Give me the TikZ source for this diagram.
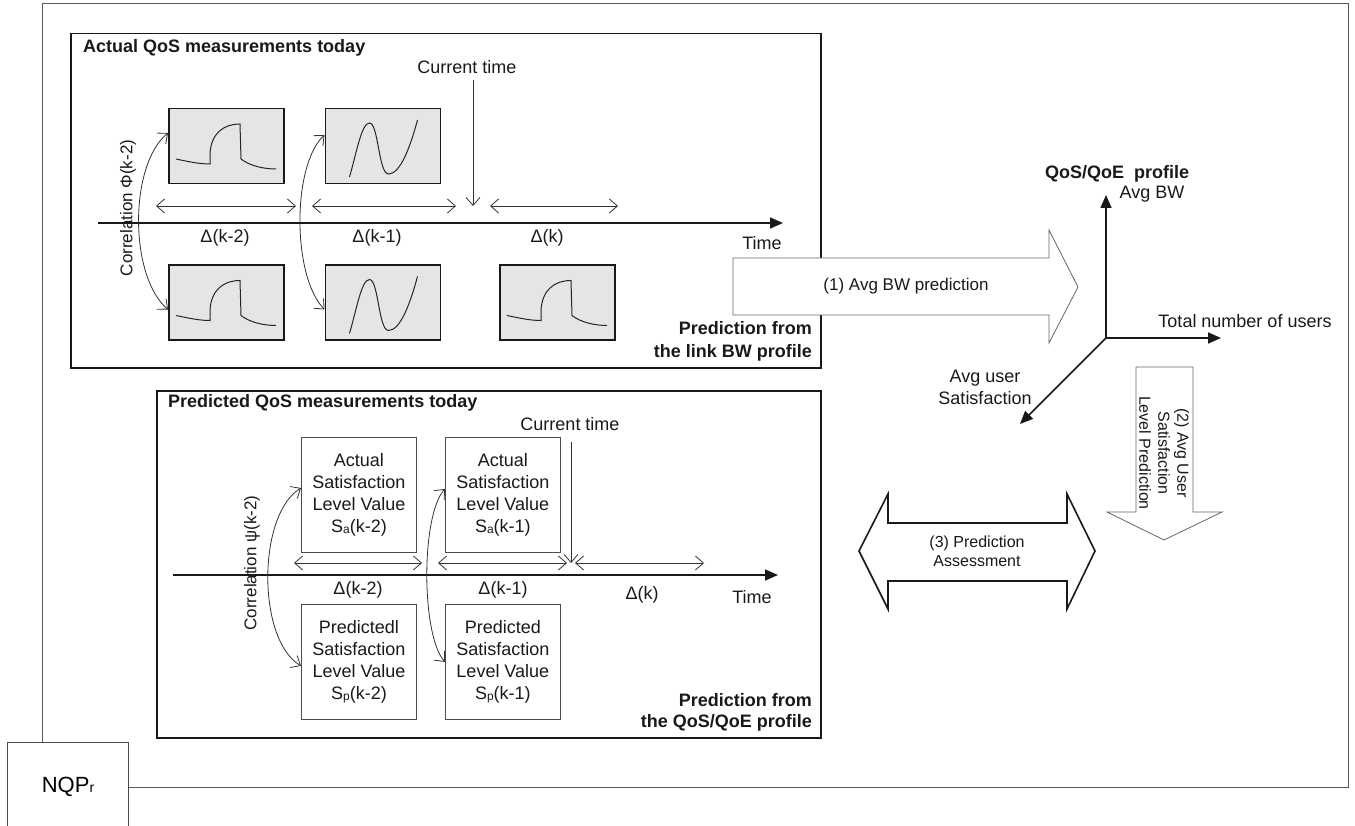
\documentclass[tikz,border=0pt]{standalone}
\usepackage{fontspec}
\setmainfont{Liberation Sans}
\usetikzlibrary{positioning, arrows.meta, calc}

\newcommand{\smallidx}[1]{\raisebox{-1pt}{\fontsize{12}{12}\selectfont #1}}

\begin{document}
\begin{tikzpicture}[x=1pt, y=-1pt,
  frame/.style={draw=black!65, line width=1pt},
  panel/.style={draw=black!90, line width=1.5pt, inner sep=0pt, anchor=north west},
  graph/.style={draw=black!90, fill=black!10, line width=1.5pt,
                minimum width=115pt, minimum height=75pt, inner sep=0pt},
  level/.style={draw=black!70, line width=0.9pt, minimum width=115pt, minimum height=115pt,
                inner sep=0pt, align=center, text=black!90, font=\fontsize{18}{22}\selectfont},
  lbl/.style={font=\fontsize{18}{22}\selectfont, text=black!90, inner sep=0pt},
  slbl/.style={font=\fontsize{16}{19}\selectfont, text=black!90, inner sep=0pt, align=center},
  ttl/.style={font=\fontsize{18}{23}\selectfont\bfseries, text=black!90, inner sep=0pt},
  span/.style={{Straight Barb[length=8pt,width=14pt]}-{Straight Barb[length=8pt,width=14pt]},
               line width=0.8pt, black!80},
  now/.style={-{Straight Barb[length=8pt,width=14pt]}, line width=0.8pt, black!80},
  axis/.style={-{Triangle[length=13pt,width=11pt]}, line width=1.6pt, black!90},
  sig/.style={line width=1pt, black!85},
  fat/.style={draw=black!60, line width=0.8pt, fill=white},
  fatb/.style={draw=black!90, line width=1.6pt, fill=white},
]
\useasboundingbox (0,0) rectangle (1355,826);

% === Outer frame and NQPr box ===
\draw[frame] (42,4) rectangle (1348,787);
\node[draw=black!70, line width=1pt, fill=white, anchor=north west,
      minimum width=121pt, minimum height=88pt, inner sep=0pt,
      font=\fontsize{22}{24}\selectfont] (nqp) at (7,742) {NQP{\fontsize{14}{14}\selectfont r}};

% === Top panel: actual QoS measurements ===
\node[panel, minimum width=750pt, minimum height=334pt] (toppanel) at (70,33) {};
\node[ttl, anchor=west] (toptitle) at (83,48) {Actual QoS measurements today};
\node[ttl, anchor=east, align=right] (toppred) at (812,341) {Prediction from\\the link BW profile};

% Signal boxes
\node[graph, anchor=north west] (ga) at (168,108) {};
\node[graph, right=40pt of ga] (gb) {};
\node[graph, below=80pt of ga] (gc) {};
\node[graph, below=80pt of gb] (gd) {};
\node[graph, right=58pt of gd] (ge) {};

\foreach \n in {ga,gc,ge} {
  \begin{scope}[shift={(\n.north west)}]
    \draw[sig] (8,51) .. controls (22,54) and (32,56) .. (42,56) -- (42,46)
      .. controls (43,25) and (56,16) .. (72,16) -- (73,51)
      .. controls (82,58) and (96,61) .. (108,61);
  \end{scope}
}
\foreach \n in {gb,gd} {
  \begin{scope}[shift={(\n.north west)}]
    \draw[sig] (25,69) .. controls (32,45) and (37,15) .. (45,15)
      .. controls (54,15) and (54,66) .. (64,66)
      .. controls (76,66) and (86,38) .. (93,12);
  \end{scope}
}

% Time axis and intervals
\coordinate (tax0) at (98,223);
\coordinate (tax1) at (783,223);
\draw[axis] (tax0) -- (tax1);
\node[lbl] (toptime) at (762,243) {Time};
\foreach \i/\a/\b/\c in {1/156/296/{$\Delta$(k-2)}, 2/312/456/{$\Delta$(k-1)}, 3/490/618/{$\Delta$(k)}} {
  \coordinate (ts\i a) at (\a,206);
  \coordinate (ts\i b) at (\b,206);
  \draw[span] (ts\i a) -- (ts\i b);
}
\node[lbl] (tdelta1) at (225,238) {Δ(k-2)};
\node[lbl] (tdelta2) at (377,238) {Δ(k-1)};
\node[lbl] (tdelta3) at (547,238) {Δ(k)};

% Current time
\node[lbl] (topnow) at (467,67) {Current time};
\coordinate (tn0) at (473,80);
\coordinate (tn1) at (473,206);
\draw[now] (tn0) -- (tn1);

% Correlation
\node[lbl, font=\fontsize{17}{20}\selectfont, rotate=90] (topcorr) at (128,208) {Correlation Φ(k-2)};
\draw[span] ($(ga.north west)+(0,25)$) .. controls (129,165) and (129,276) .. ($(gc.north west)+(0,45)$);
\draw[span] ($(gb.north west)+(0,27)$) .. controls (292,165) and (292,276) .. ($(gd.north west)+(0,45)$);

% === Arrow (1) ===
\draw[fat] (733,258) -- (1049,258) -- (1049,230) -- (1078,287) -- (1049,343)
  -- (1049,315) -- (733,315) -- cycle;
\node[lbl, font=\fontsize{17}{20}\selectfont] (arr1) at (906,286) {(1) Avg BW prediction};

% === Bottom panel: predicted QoS measurements ===
\node[panel, minimum width=664pt, minimum height=347pt] (botpanel) at (156,390) {};
\node[ttl, anchor=west] (bottitle) at (168,403) {Predicted QoS measurements today};
\node[ttl, anchor=east, align=right, font=\fontsize{18}{21}\selectfont\bfseries] (botpred) at (812,712)
  {Prediction from\\the QoS/QoE profile};

\node[level, anchor=north west] (sa1) at (301,437) {Actual\\Satisfaction\\Level Value\\S\smallidx{a}(k-2)};
\node[level, right=28pt of sa1] (sa2) {Actual\\Satisfaction\\Level Value\\S\smallidx{a}(k-1)};
\node[level, below=51pt of sa1] (sp1) {Predictedl\\Satisfaction\\Level Value\\S\smallidx{p}(k-2)};
\node[level, below=51pt of sa2] (sp2) {Predicted\\Satisfaction\\Level Value\\S\smallidx{p}(k-1)};

\coordinate (bax0) at (173,575);
\coordinate (bax1) at (778,575);
\draw[axis] (bax0) -- (bax1);
\node[lbl] (bottime) at (752,597) {Time};
\foreach \i/\a/\b in {1/294/422, 2/438/567, 3/575/704} {
  \coordinate (bs\i a) at (\a,563);
  \coordinate (bs\i b) at (\b,563);
  \draw[span] (bs\i a) -- (bs\i b);
}
\node[lbl] (bdelta1) at (358,590) {Δ(k-2)};
\node[lbl] (bdelta2) at (503,590) {Δ(k-1)};
\node[lbl] (bdelta3) at (642,595) {Δ(k)};

\node[lbl] (botnow) at (570,424) {Current time};
\coordinate (bn0) at (571,442);
\coordinate (bn1) at (571,563);
\draw[now] (bn0) -- (bn1);

\node[lbl, font=\fontsize{17}{20}\selectfont, rotate=90] (botcorr) at (252,563) {Correlation ψ(k-2)};
\draw[span] ($(sa1.north west)+(0,51)$) .. controls (257,515) and (257,640) .. ($(sp1.north west)+(0,62)$);
\draw[span] ($(sa2.north west)+(0,52)$) .. controls (421,515) and (421,635) .. ($(sp2.north west)+(0,58)$);

% === QoS/QoE profile axes ===
\coordinate (org) at (1106,338);
\coordinate (ybw) at (1106,195);
\coordinate (xusr) at (1221,338);
\coordinate (zsat) at (1020,424);
\draw[axis] (org) -- (ybw);
\draw[axis] (org) -- (xusr);
\draw[axis] (org) -- (zsat);
\node[ttl] (proftitle) at (1117,174) {QoS/QoE~~profile};
\node[lbl] (avgbw) at (1152,194) {Avg BW};
\node[lbl] (nusers) at (1245,321) {Total number of users};
\node[lbl, align=center] (avgsat) at (985,387) {Avg user\\Satisfaction};

% === Arrow (2) ===
\draw[fat] (1136,367) -- (1193,367) -- (1193,512) -- (1222,512) -- (1164,540)
  -- (1107,512) -- (1136,512) -- cycle;
\node[slbl, rotate=-90] (arr2) at (1164,453) {(2) Avg User\\Satisfaction\\Level Prediction};

% === Arrow (3) ===
\draw[fatb] (859,551) -- (888,494) -- (888,523) -- (1067,523) -- (1067,494) -- (1095,551)
  -- (1067,609) -- (1067,581) -- (888,581) -- (888,609) -- cycle;
\node[slbl] (arr3) at (977,551) {(3) Prediction\\Assessment};

\end{tikzpicture}
\end{document}
